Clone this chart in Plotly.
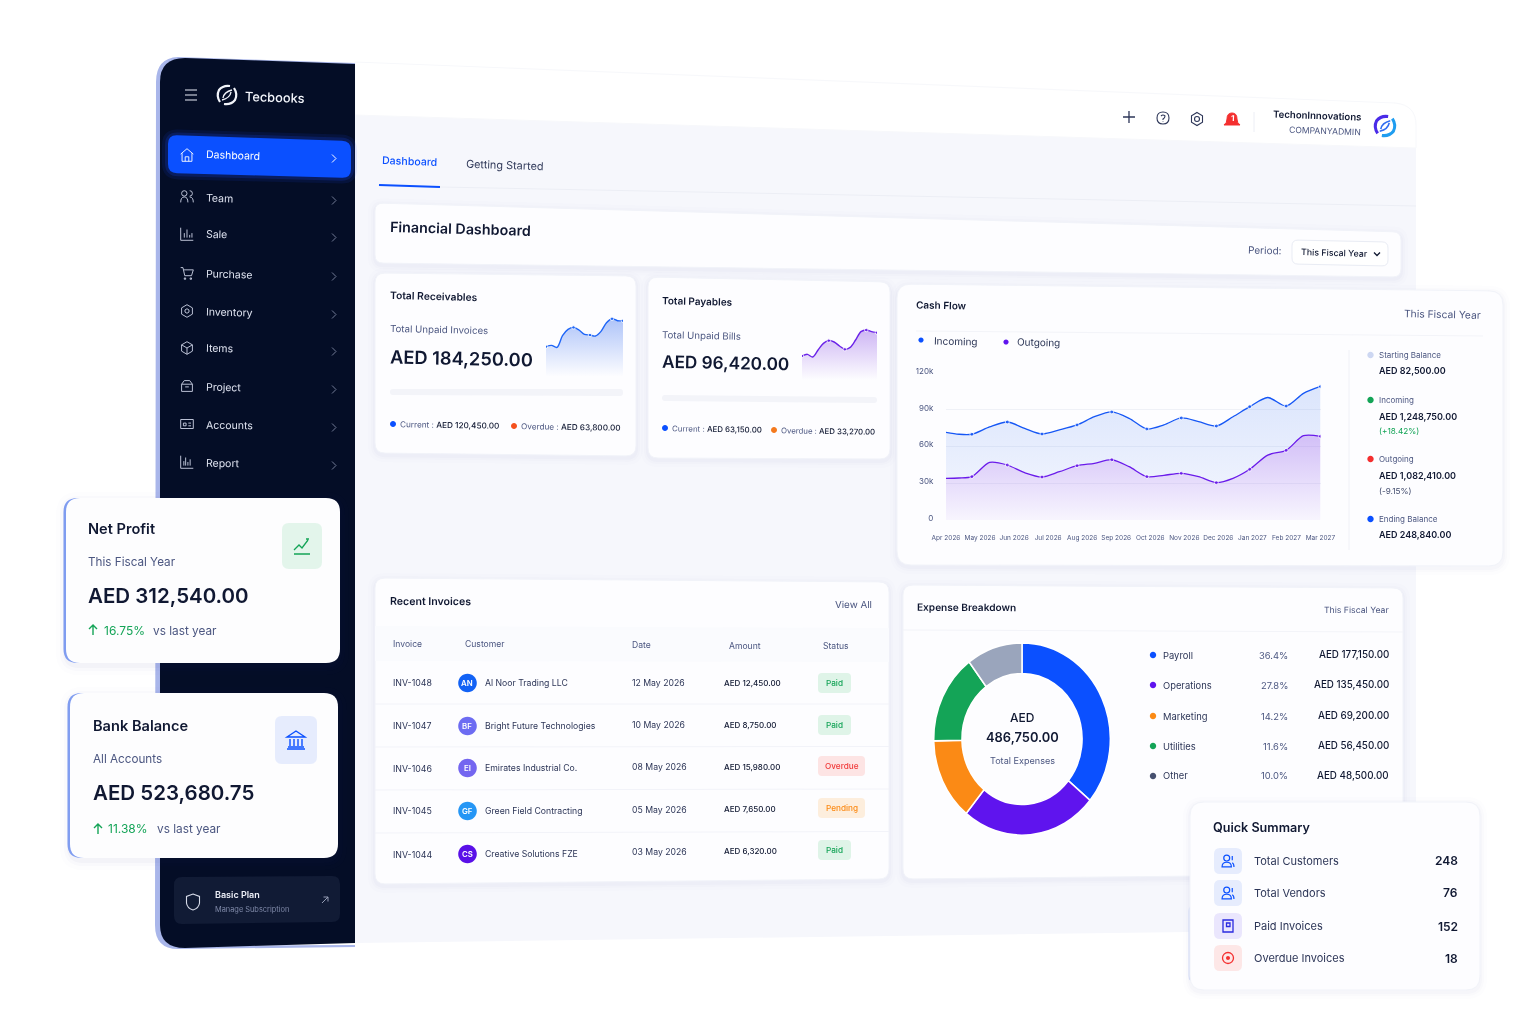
import re, math
import plotly.graph_objects as go

W, H = 1535, 1024
INK = "#101832"
MUTED = "#4b5680"
BLUE = "#0b50ff"
PURPLE = "#5f14ee"
GREEN = "#14a457"
RED = "#f42f2f"
ORANGE = "#fb8a15"

# ---------- data ----------
MONTHS = ["Apr 2026", "May 2026", "Jun 2026", "Jul 2026", "Aug 2026", "Sep 2026",
          "Oct 2026", "Nov 2026", "Dec 2026", "Jan 2027", "Feb 2027", "Mar 2027"]
# where each reading sits along the month axis, as drawn in the reference (markers are not under the labels)
CURVE_POS = [0, 0.38, 0.76, 1.28, 1.8, 2.31, 2.82, 3.33, 3.85, 4.36, 4.87, 5.38, 5.9, 6.4, 6.91,
             7.42, 7.94, 8.43, 8.92, 9.45, 9.99, 10.5, 11]
INCOMING_K = [71.6, 70, 70, 76, 80, 74.8, 70.2, 73.5, 77.6, 84.3, 88.2, 83, 74.3, 77.6, 83.3,
              80.3, 76.7, 84.3, 92.5, 100, 93, 103.4, 109]
OUTGOING_K = [34, 34.3, 35.4, 47, 44.9, 38.6, 35.1, 39.4, 44.3, 46.3, 49.2, 43.5, 35.4, 36.5,
              38.1, 35.4, 30.5, 34, 41.4, 53, 56.9, 68.8, 68.3]
CASH_TICKS = [0, 30, 60, 90, 120]
CASH_TICK_LABELS = ["0", "30k", "60k", "90k", "120k"]

SPARK_STEPS = list(range(15))
RECEIVABLES = [90, 94, 88, 123, 142, 148, 140, 127, 125, 122, 136, 162, 174, 168, 168]
PAYABLES = [72, 77, 69, 90, 110, 118, 114, 102, 92, 98, 120, 145, 150, 145, 142]
SPARK_MARKED = [0, 5, 8, 12, 14]

EXPENSE_LABELS = ["Payroll", "Operations", "Marketing", "Utilities", "Other"]
EXPENSE_SHARE_DRAWN = [36.0, 24.9, 13.8, 15.1, 10.2]
EXPENSE_PCT = ["36.4%", "27.8%", "14.2%", "11.6%", "10.0%"]
EXPENSE_AMT = ["AED 177,150.00", "AED 135,450.00", "AED 69,200.00", "AED 56,450.00", "AED 48,500.00"]
EXPENSE_COLORS = [BLUE, PURPLE, ORANGE, GREEN, "#9aa5bc"]
EXPENSE_DOTS = [BLUE, PURPLE, ORANGE, GREEN, "#46506f"]

NAV = ["Dashboard", "Team", "Sale", "Purchase", "Inventory", "Items", "Project", "Accounts", "Report"]
INV_ID = ["INV-1048", "INV-1047", "INV-1046", "INV-1045", "INV-1044"]
INV_CUST = ["Al Noor Trading LLC", "Bright Future Technologies", "Emirates Industrial Co.",
            "Green Field Contracting", "Creative Solutions FZE"]
INV_INIT = ["AN", "BF", "EI", "GF", "CS"]
INV_DATE = ["12 May 2026", "10 May 2026", "08 May 2026", "05 May 2026", "03 May 2026"]
INV_AMT = ["AED 12,450.00", "AED 8,750.00", "AED 15,980.00", "AED 7,650.00", "AED 6,320.00"]
INV_STATUS = ["Paid", "Paid", "Overdue", "Pending", "Paid"]
SUMMARY = ["Total Customers", "Total Vendors", "Paid Invoices", "Overdue Invoices"]
SUMMARY_N = ["248", "76", "152", "18"]

# ---------- helpers ----------
def X(x): return round(x / W, 5)
def Y(y): return round(1 - y / H, 5)
def slope(y): return 0.036 - 0.000064 * (y - 100)

def paper(path):
    out, is_x = [], True
    for tok in re.findall(r"[MLQCZ]|-?\d+\.?\d*", path):
        if tok in "MLQCZ":
            out.append(tok); is_x = True
        else:
            out.append(str(X(float(tok)) if is_x else Y(float(tok))))
            is_x = not is_x
    return " ".join(out)

shapes, notes = [], []

def S(path, fill=None, line=None, lw=1):
    shapes.append(dict(type="path", path=paper(path), xref="paper", yref="paper", layer="below",
                       fillcolor=fill or "rgba(0,0,0,0)",
                       line=dict(color=line or "rgba(0,0,0,0)", width=lw if line else 0)))

def rr(xl, xr, ytl, ytr, ybl, ybr, r):
    st = (ytr - ytl) / (xr - xl); sb = (ybr - ybl) / (xr - xl)
    return (f"M {xl+r} {ytl+st*r} L {xr-r} {ytr-st*r} Q {xr} {ytr} {xr} {ytr+r} L {xr} {ybr-r} "
            f"Q {xr} {ybr} {xr-r} {ybr-sb*r} L {xl+r} {ybl+sb*r} Q {xl} {ybl} {xl} {ybl-r} "
            f"L {xl} {ytl+r} Q {xl} {ytl} {xl+r} {ytl+st*r} Z")

def panel(xl, xr, ytl, ytr, ybl, ybr, r=10, fill="#fdfdff", shadow=True):
    if shadow:
        for d, a in ((7, .010), (4, .014), (2, .018)):
            S(rr(xl-d, xr+d, ytl-d+2, ytr-d+2, ybl+d+2, ybr+d+2, r+d), f"rgba(50,65,130,{a})")
    S(rr(xl, xr, ytl, ytr, ybl, ybr, r), fill, "#f1f3f9", 1)

def circ(cx, cy, r, fill=None, line=None, lw=1):
    k = .5523 * r
    S(f"M {cx-r} {cy} C {cx-r} {cy-k} {cx-k} {cy-r} {cx} {cy-r} C {cx+k} {cy-r} {cx+r} {cy-k} {cx+r} {cy} "
      f"C {cx+r} {cy+k} {cx+k} {cy+r} {cx} {cy+r} C {cx-k} {cy+r} {cx-r} {cy+k} {cx-r} {cy} Z", fill, line, lw)

def icon(cx, cy, d, color, lw=1.1, fill=None, scale=1.0):
    out, is_x = [], True
    for tok in re.findall(r"[MLQCZ]|-?\d+\.?\d*", d):
        if tok in "MLQCZ":
            out.append(tok); is_x = True
        else:
            out.append(f"{cx + float(tok)*scale:.2f}" if is_x else f"{cy + float(tok)*scale:.2f}")
            is_x = not is_x
    S(" ".join(out), fill, color, lw)

def T(x, y, s, size=10, color=INK, weight=400, anchor="left", slant=True):
    ang = math.degrees(math.atan(slope(y))) if slant else 0
    notes.append(dict(x=X(x), y=Y(y), xref="paper", yref="paper", text=s, showarrow=False,
                      xanchor=anchor, yanchor="middle", textangle=ang, borderpad=0, borderwidth=0,
                      font=dict(family="Inter", size=size, color=color, weight=weight)))

ICONS = {
    "Dashboard": "M -7 -1 L 0 -7 L 7 -1 M -5.5 -2 L -5.5 7 L 5.5 7 L 5.5 -2 M -2 7 L -2 2 L 2 2 L 2 7",
    "Team": "M -3 -7 Q 0 -7 0 -4 Q 0 -1 -3 -1 Q -6 -1 -6 -4 Q -6 -7 -3 -7 M 3 -7 Q 6 -7 6 -4 Q 6 -1 3 -1 "
            "M -7 6 Q -7 0 -3 0 Q 1 0 1 6 M 3 0 Q 7 0 7 6",
    "Sale": "M -7 -7 L -7 7 L 7 7 M -3 4 L -3 -1 M 0 4 L 0 -5 M 3 4 L 3 1 M 5.5 4 L 5.5 -1",
    "Purchase": "M -7 -6 L -4.5 -6 L -2.5 3 L 5 3 L 7 -3.5 L -3.5 -3.5 M -3 5.5 L -1.5 5.5 L -1.5 7 L -3 7 Z "
                "M 3.5 5.5 L 5 5.5 L 5 7 L 3.5 7 Z",
    "Inventory": "M 0 -7 L 6 -3.5 L 6 3.5 L 0 7 L -6 3.5 L -6 -3.5 Z M 0 -2.5 L 2.2 -1.2 L 2.2 1.2 L 0 2.5 L -2.2 1.2 L -2.2 -1.2 Z",
    "Items": "M 0 -7 L 6 -3.5 L 6 3.5 L 0 7 L -6 3.5 L -6 -3.5 Z M -6 -3.5 L 0 0 L 6 -3.5 M 0 0 L 0 7",
    "Project": "M -6 -2 L 6 -2 L 6 6 L -6 6 Z M -6 -2 L -3 -6 L 3 -6 L 6 -2 M -2 1 L 2 1",
    "Accounts": "M -7 -5 L 7 -5 L 7 5 L -7 5 Z M -4 -1 L -1 -1 L -1 2 L -4 2 Z M 1.5 -1 L 4.5 -1 M 1.5 2 L 4.5 2",
    "Report": "M -7 -7 L -7 7 L 7 7 M -3.5 4 L -3.5 -1 M -1.5 4 L -1.5 -5 M 1 4 L 1 0 M 3.5 4 L 3.5 -3",
}
PEOPLE = "M -1.5 -7 Q 2 -7 2 -3.5 Q 2 0 -1.5 0 Q -5 0 -5 -3.5 Q -5 -7 -1.5 -7 M -7 7 Q -7 1.5 -1.5 1.5 Q 4 1.5 4 7 Z M 5 -6 L 5 -1 M 7 7 Q 7 3 5 2"
RING_A = "M -7 7 Q -11 1 -8 -5 Q -4 -10 3 -9"
RING_B = "M 7 -7 Q 11 -1 8 5 Q 4 10 -3 9"
RING_C = "M -4 3 Q -3 -3 5 -5 M 4 -3 Q 3 3 -5 5"

# ---------- background and header ----------
S("M 355 115 L 1416 148 L 1416 930 L 1190 932 L 355 943 Z", "#f6f7fc")
S("M 355 62 L 1395 103 Q 1416 105 1416 125 L 1416 148 L 355 115 Z", "#ffffff", "#f7f8fb", 1)
S("M 440 187 L 1416 206", None, "#eceef5", 1)
S("M 379 185 L 440 187", None, BLUE, 2)

T(382, 162, "Dashboard", 10.6, BLUE, 500)
T(466, 165, "Getting Started", 10.9, "#333c5c", 400)

icon(1129, 117, "M -6 0 L 6 0 M 0 -6 L 0 6", "#2d3658", 1.3)
icon(1163, 118, "M -6 0 Q -6 -6 0 -6 Q 6 -6 6 0 Q 6 6 0 6 Q -6 6 -6 0 Z M -2 -2 Q 0 -4 2 -2 Q 2 0 0 1 L 0 2 M 0 3.5 L 0 4", "#2d3658", 1.1)
icon(1197, 119, "M 0 -6.5 L 5.5 -3.2 L 5.5 3.2 L 0 6.5 L -5.5 3.2 L -5.5 -3.2 Z M 0 -2.5 Q 2.5 -2.5 2.5 0 Q 2.5 2.5 0 2.5 Q -2.5 2.5 -2.5 0 Q -2.5 -2.5 0 -2.5 Z", "#2d3658", 1.1)
icon(1232, 120, "M -8 5 Q -5 3 -5 -1 Q -5 -7 0 -7 Q 5 -7 5 -1 Q 5 3 8 5 Z", RED, 1, RED)
T(1232, 118, "1", 8, "#ffffff", 700, "center")
S("M 1254 112 L 1254 132", None, "#eceef5", 1)
T(1361, 116, "TechonInnovations", 9.6, INK, 600, "right")
T(1361, 131, "COMPANYADMIN", 8.6, MUTED, 400, "right")
icon(1385, 126, RING_A, "#4a2be8", 3, scale=1.05)
icon(1385, 126, RING_B, "#1f9df0", 3, scale=1.05)
icon(1385, 126, RING_C, "#2f6df0", 1.6, scale=1.05)

# ---------- sidebar ----------
S("M 178 57 L 355 63 L 355 70 L 178 64 Q 163 62 163 78 L 163 930 Q 163 946 178 946 L 355 945 L 355 947 L 178 949 Q 155 949 155 925 L 156 82 Q 156 58 178 57 Z", "#a9b6ea")
S("M 185 58 L 355 64 L 355 943 L 185 948 Q 160 948 160 925 L 160 82 Q 160 58 185 58 Z", "#040d26")
icon(191, 95, "M -6 -5 L 6 -5 M -6 0 L 6 0 M -6 5 L 6 5", "#e8ebf5", 1.2)
icon(227, 95, RING_A, "#f2f4fa", 2.2)
icon(227, 95, RING_B, "#f2f4fa", 2.2)
icon(227, 95, RING_C, "#f2f4fa", 1.4)
T(245, 97, "Tecbooks", 12.8, "#f4f6fc", 500)

for d, a in ((6, .10), (3, .18)):
    S(rr(168-d, 351+d, 135-d, 141-d, 173+d, 178+d, 10+d), f"rgba(30,80,255,{a})")
S(rr(168, 351, 135, 141, 173, 178, 9), BLUE)

NAV_Y = [156, 198, 235, 274, 312, 349, 387, 425, 463]
for name, y in zip(NAV, NAV_Y):
    on = name == "Dashboard"
    T(206, y, name, 10.5, "#ffffff" if on else "#dfe3f0", 400)
    icon(187, y - 1, ICONS[name], "#ffffff" if on else "#ced4e6", 0.9, scale=0.9)
    icon(334, y + 2.5, "M -2 -4 L 2 0 L -2 4", "#ffffff" if on else "#727b96", 1)

S(rr(174, 340, 877, 876, 924, 922, 8), "#111b35")
icon(193, 902, "M 0 -8 L 6.5 -5.5 L 6.5 1 Q 6 6 0 8 Q -6 6 -6.5 1 L -6.5 -5.5 Z", "#d8dcea", 1.1)
T(215, 895, "Basic Plan", 9, "#eef0f8", 600, slant=False)
T(215, 909, "Manage Subscription", 7.4, "#7f89a8", 400, slant=False)
icon(325, 900, "M -3 3 L 3 -3 M -1.5 -3 L 3 -3 L 3 1.5", "#a5adc4", 0.9)

# ---------- Financial Dashboard ----------
panel(375, 1401, 203, 232, 263, 277, 8)
T(390, 229, "Financial Dashboard", 14.3, INK, 600)
T(1282, 250, "Period:", 10, MUTED, 400, "right")
S(rr(1292, 1388, 240, 242, 264, 266, 6), "#ffffff", "#e9ecf4", 1)
T(1301, 253, "This Fiscal Year", 8.8, INK, 500)
icon(1377, 254, "M -3 -1.5 L 0 1.5 L 3 -1.5", INK, 1.3)

# ---------- Receivables ----------
panel(375, 636, 273, 276, 453, 456)
T(390, 296, "Total Receivables", 10.3, INK, 600)
T(390, 329, "Total Unpaid Invoices", 9.7, MUTED)
T(390, 358, "AED 184,250.00", 18.3, INK, 600)
S(rr(390, 623, 389, 389, 395, 396, 3), "#f3f4f9")
circ(393, 424, 3, BLUE)
T(400, 425, f"<span style='color:{MUTED}'>Current : </span><span style='font-weight:500'>AED 120,450.00</span>", 8.2, INK)
circ(514, 426, 3, "#f4511e")
T(521, 427, f"<span style='color:{MUTED}'>Overdue : </span><span style='font-weight:500'>AED 63,800.00</span>", 8.2, INK)

# ---------- Payables ----------
panel(648, 890, 277, 282, 458, 459)
T(662, 302, "Total Payables", 10, INK, 600)
T(662, 335, "Total Unpaid Bills", 9.7, MUTED)
T(662, 363, "AED 96,420.00", 17.2, INK, 600)
S(rr(662, 877, 395, 397, 401, 403, 3), "#f3f4f9")
circ(665, 428, 3, BLUE)
T(672, 429, f"<span style='color:{MUTED}'>Current : </span><span style='font-weight:500'>AED 63,150.00</span>", 7.9, INK)
circ(774, 430, 3, "#f47a1e")
T(781, 431, f"<span style='color:{MUTED}'>Overdue : </span><span style='font-weight:500'>AED 33,270.00</span>", 7.8, INK)

# ---------- Cash Flow panel ----------
panel(897, 1503, 284, 291, 565, 566, 14)
T(916, 305, "Cash Flow", 10, INK, 600)
T(1481, 314, "This Fiscal Year", 10.3, MUTED, 400, "right")
S("M 916 331 L 1483 336", None, "#f3f4f9", 1)
circ(921, 340, 2.6, BLUE)
T(934, 341, "Incoming", 10, "#283253")
circ(1006, 342, 2.6, PURPLE)
T(1017, 342, "Outgoing", 10, "#283253")
S("M 1349 350 L 1349 550", None, "#f0f1f7", 1)
CF_ROWS = [(355, "#cdd7f2", "Starting Balance", 371, "AED 82,500.00", None, None),
           (400, GREEN, "Incoming", 416, "AED 1,248,750.00", "(+18.42%)", GREEN),
           (459, RED, "Outgoing", 476, "AED 1,082,410.00", "(-9.15%)", "#404a6c"),
           (519, BLUE, "Ending Balance", 535, "AED 248,840.00", None, None)]
for ya, col, lab, yb, val, sub, subc in CF_ROWS:
    circ(1370.5, ya, 3.2, col)
    T(1379, ya, lab, 8, MUTED, slant=False)
    T(1379, yb, val, 9, INK, 600, slant=False)
    if sub:
        T(1379, yb + 15, sub, 8.2, subc, slant=False)

# ---------- Recent invoices ----------
panel(375, 889, 578, 582, 884, 879)
T(390, 602, "Recent Invoices", 10.6, INK, 600)
T(872, 605, "View All", 9.8, MUTED, 400, "right")
S("M 375 626 L 889 628 L 889 662 L 375 661 Z", "#fafbfe")
for x, y, h in [(393, 644, "Invoice"), (465, 644.5, "Customer"), (632, 645, "Date"), (729, 646, "Amount"), (823, 646, "Status")]:
    T(x, y, h, 8.6, MUTED, 400, slant=False)
ROW_ID_Y = [682, 725, 768, 811, 855]
ROW_NAME_Y = [683, 726, 768, 811, 854]
ROW_DATE_Y = [683, 725, 767, 810, 852]
ROW_AMT_Y = [683, 725, 767, 809, 851]
ROW_BADGE_Y = [683, 725, 766, 808, 850]
AV_COL = ["#1262f5", "#6d6cf2", "#7466f0", "#2596f5", "#5a10e8"]
BADGE = {"Paid": ("#dff4e8", GREEN, 33), "Overdue": ("#fde4e4", "#f03a3a", 47), "Pending": ("#fdeedd", "#fb8a15", 47)}
for i in range(5):
    if i < 4:
        S(f"M 375 {704+i*43} L 889 {704+i*43-0.5*i}", None, "#f2f3f9", 1)
    T(393, ROW_ID_Y[i], INV_ID[i], 8.8, "#2c3557", slant=False)
    circ(467.5, ROW_NAME_Y[i], 9.3, AV_COL[i])
    T(467.5, ROW_NAME_Y[i], INV_INIT[i], 7.8, "#ffffff", 600, "center", slant=False)
    T(485, ROW_NAME_Y[i], INV_CUST[i], 8.7, "#2c3557", slant=False)
    T(632, ROW_DATE_Y[i], INV_DATE[i], 8.7, "#2c3557", slant=False)
    T(724, ROW_AMT_Y[i], INV_AMT[i], 8, INK, 500, slant=False)
    bg, fg, bw = BADGE[INV_STATUS[i]]
    S(rr(818, 818 + bw, ROW_BADGE_Y[i]-10, ROW_BADGE_Y[i]-10, ROW_BADGE_Y[i]+10, ROW_BADGE_Y[i]+10, 4), bg)
    T(818 + bw/2, ROW_BADGE_Y[i], INV_STATUS[i], 8.2, fg, 500, "center", slant=False)

# ---------- Expense breakdown ----------
panel(903, 1403, 585, 588, 879, 874)
T(917, 607, "Expense Breakdown", 10.1, INK, 600)
T(1389, 610, "This Fiscal Year", 8.7, MUTED, 400, "right")
S("M 903 630 L 1403 632", None, "#f3f4f9", 1)
T(1022, 717, "AED", 12, INK, 500, "center", slant=False)
T(1022, 737, "486,750.00", 12.9, INK, 600, "center", slant=False)
T(1022, 760, "Total Expenses", 9.1, MUTED, 400, "center", slant=False)
EXP_Y = [655, 685, 716, 746, 776]
for i, y in enumerate(EXP_Y):
    circ(1153, y, 3.2, EXPENSE_DOTS[i])
    T(1163, y, EXPENSE_LABELS[i], 9.4, "#2c3557", slant=False)
    T(1288, y, EXPENSE_PCT[i], 9.4, MUTED, 400, "right", slant=False)
    T(1389, y - 0.5, EXPENSE_AMT[i], 9.8, INK, 500, "right", slant=False)

# ---------- Quick Summary ----------
S(rr(1188.5, 1200, 905, 905, 982, 982, 6), "#dbe3fa")
panel(1190, 1480, 802, 802, 990, 990, 14, "#fdfdff")
T(1213, 827, "Quick Summary", 12.6, INK, 600, slant=False)
SUM_Y = [861, 893, 926, 958]
SUM_BG = ["#e6ecfd", "#e6ecfd", "#eae6fd", "#fde7e7"]
for i, y in enumerate(SUM_Y):
    S(rr(1214, 1242, y-13, y-13, y+13, y+13, 6), SUM_BG[i])
    T(1254, y, SUMMARY[i], 11, "#2c3557", slant=False)
    T(1458, y, SUMMARY_N[i], 12, INK, 600, "right", slant=False)
icon(1228, 861, PEOPLE, BLUE, 1.2, scale=.85)
icon(1228, 893, PEOPLE, BLUE, 1.2, scale=.85)
icon(1228, 926, "M -5 -6 L 5 -6 L 5 6 L -5 6 Z M -1.5 -3 L 2 -3 L 2 0.5 L -1.5 0.5 Z", "#2a2ae0", 1.3)
circ(1228, 958, 5.5, None, RED, 1.3)
circ(1228, 958, 2, RED)

# ---------- Floating cards ----------
def float_card(xl, xr, yt, yb):
    for d, a in ((9, .012), (5, .02), (2, .03)):
        S(rr(xl-d, xr+d, yt-d+3, yt-d+3, yb+d+3, yb+d+3, 14+d), f"rgba(50,65,130,{a})")
    S(rr(xl-1.5, xl+30, yt, yt, yb, yb, 14), "#7f9cf0")
    S(rr(xl+1, xr, yt, yt, yb, yb, 14), "#fdfdfe")

float_card(65, 340, 498, 663)
T(88, 529, "Net Profit", 14.6, INK, 600, slant=False)
T(88, 562, "This Fiscal Year", 11.7, MUTED, slant=False)
T(88, 596, "AED 312,540.00", 20.5, INK, 600, slant=False)
icon(93, 630, "M 0 5 L 0 -5 M -4 -1 L 0 -5 L 4 -1", GREEN, 1.4)
T(104, 631, "16.75%", 12, GREEN, slant=False)
T(153, 631, "vs last year", 11.8, MUTED, slant=False)
S(rr(282, 322, 523, 523, 569, 569, 7), "#e3f5eb")
icon(302, 546, "M -8 8 L 8 8 M -8 4 L -3 -1 L 0 2 L 6 -6 M 4 -7 L 7 -7", GREEN, 1.3)

float_card(69, 338, 693, 858)
T(93, 726, "Bank Balance", 14.6, INK, 600, slant=False)
T(93, 759, "All Accounts", 11.7, MUTED, slant=False)
T(93, 793, "AED 523,680.75", 20.5, INK, 600, slant=False)
icon(98, 829, "M 0 5 L 0 -5 M -4 -1 L 0 -5 L 4 -1", GREEN, 1.4)
T(108, 829, "11.38%", 12, GREEN, slant=False)
T(157, 829, "vs last year", 11.8, MUTED, slant=False)
S(rr(275, 317, 716, 716, 764, 764, 7), "#e6ecfd")
icon(296, 740, "M -9 -3 L 0 -9 L 9 -3 Z M -6 -1 L -6 6 M -2 -1 L -2 6 M 2 -1 L 2 6 M 6 -1 L 6 6 M -8 7 L 8 7 M -9 9 L 9 9", BLUE, 1.4)

# ---------- charts ----------
fig = go.Figure()

def dom_x(a, b): return [a / W, b / W]
def dom_y(top, bot): return [1 - bot / H, 1 - top / H]

def hidden(**kw):
    return dict(visible=False, fixedrange=True, **kw)

def spark(values, color, fade, xa, ya):
    fig.add_trace(go.Scatter(
        x=SPARK_STEPS, y=values, xaxis=xa, yaxis=ya, mode="lines+markers",
        line=dict(color=color, width=1.4, shape="spline", smoothing=0.9),
        marker=dict(size=[3.6 if i in SPARK_MARKED else 0 for i in SPARK_STEPS], color=color),
        fill="tozeroy", fillgradient=dict(type="vertical", start=0, stop=170,
                                          colorscale=[[0, f"rgba({fade},0)"], [1, f"rgba({fade},0.42)"]]),
        hoverinfo="skip", showlegend=False))

spark(RECEIVABLES, "#1f66f7", "70,120,240", "x", "y")
spark(PAYABLES, "#6a22e8", "125,60,225", "x2", "y2")

fig.add_trace(go.Scatter(
    x=CURVE_POS, y=OUTGOING_K, xaxis="x3", yaxis="y3", mode="lines+markers",
    line=dict(color="#6a1bea", width=1.3, shape="spline", smoothing=0.8),
    marker=dict(size=[4 if i % 2 == 0 and i else 0 for i in range(23)], color="#6a1bea"),
    fill="tozeroy", fillgradient=dict(type="vertical", start=0, stop=65,
                                      colorscale=[[0, "rgba(140,90,235,0.05)"], [1, "rgba(140,90,235,0.36)"]]),
    hoverinfo="skip", showlegend=False))
fig.add_trace(go.Scatter(
    x=CURVE_POS, y=INCOMING_K, xaxis="x3", yaxis="y3", mode="lines+markers",
    line=dict(color="#1657f5", width=1.3, shape="spline", smoothing=0.8),
    marker=dict(size=[4 if i % 2 == 0 and i else 0 for i in range(23)], color="#1657f5"),
    fill="tonexty", fillgradient=dict(type="vertical", start=30, stop=105,
                                      colorscale=[[0, "rgba(80,130,240,0.09)"], [1, "rgba(80,130,240,0.19)"]]),
    hoverinfo="skip", showlegend=False))

fig.add_trace(go.Pie(
    values=EXPENSE_SHARE_DRAWN, labels=EXPENSE_LABELS, hole=0.68, sort=False, direction="clockwise",
    rotation=0, textinfo="none", hoverinfo="skip", showlegend=False,
    marker=dict(colors=EXPENSE_COLORS, line=dict(color="#ffffff", width=1.6)),
    domain=dict(x=dom_x(1022 - 92.5, 1022 + 92.5), y=dom_y(739 - 92.5, 739 + 92.5))))

fig.update_layout(
    width=W, height=H, margin=dict(l=0, r=0, t=0, b=0, pad=0, autoexpand=False), autosize=False,
    paper_bgcolor="#ffffff", plot_bgcolor="rgba(0,0,0,0)", showlegend=False,
    font=dict(family="Inter"), shapes=shapes, annotations=notes,
    xaxis=hidden(domain=dom_x(546, 623), range=[0, 14], anchor="y"),
    yaxis=hidden(domain=dom_y(316.7, 376.7), range=[0, 180], anchor="x"),
    xaxis2=hidden(domain=dom_x(802, 877), range=[0, 14], anchor="y2"),
    yaxis2=hidden(domain=dom_y(320, 380), range=[0, 180], anchor="x2"),
    xaxis3=dict(domain=dom_x(946, 1320.5), range=[0, 11], anchor="y3", fixedrange=True,
                tickmode="array", tickvals=list(range(12)), ticktext=MONTHS, showgrid=False, zeroline=False,
                showline=False, ticks="outside", ticklen=11, tickcolor="rgba(0,0,0,0)", tickangle=0,
                tickfont=dict(family="Inter", size=6.5, color=MUTED)),
    yaxis3=dict(domain=dom_y(373, 520), range=[0, 120], anchor="x3", fixedrange=True,
                tickmode="array", tickvals=CASH_TICKS, ticktext=CASH_TICK_LABELS, showgrid=True,
                gridcolor="#eff1f7", gridwidth=1, zeroline=False, showline=False, ticks="outside", ticklen=10,
                ticklabelshift=-2,
                tickcolor="rgba(0,0,0,0)", tickfont=dict(family="Inter", size=8, color=MUTED)),
)

POST = """
document.body.style.margin='0';
document.documentElement.style.overflow='hidden';
var p=document.querySelector('.pielayer');
if(p){p.setAttribute('transform','translate(1022 739) scale(0.955 1.04) translate(-1022 -739)');}
var g=document.querySelector('.js-plotly-plot');
if(g){g.style.filter='blur(0.35px)';}
"""
fig.write_html("out.html", post_script=POST, config=dict(displayModeBar=False, responsive=False))
